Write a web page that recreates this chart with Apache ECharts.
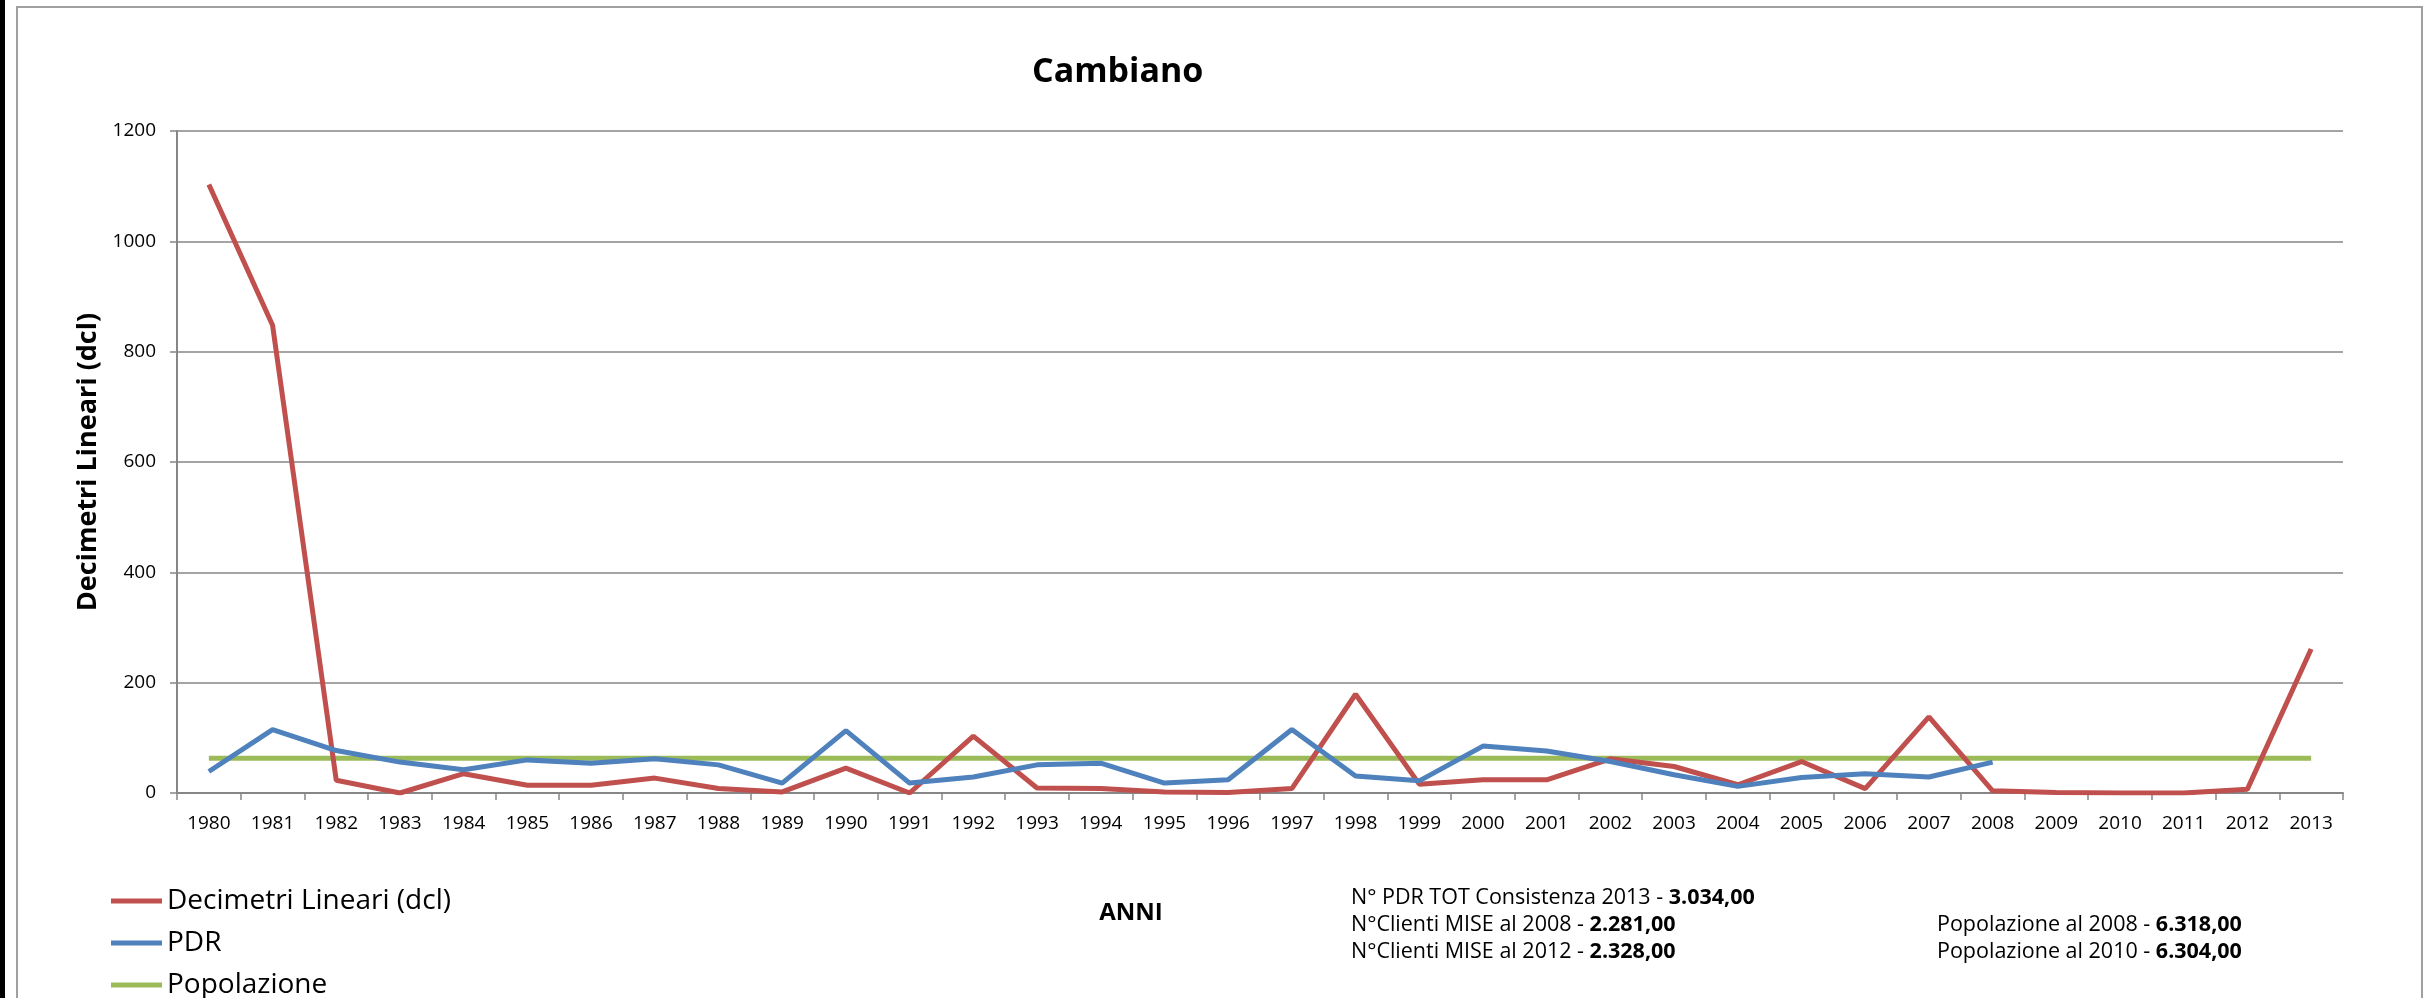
<!DOCTYPE html>
<html>
<head>
<meta charset="utf-8">
<script src="https://cdn.jsdelivr.net/npm/echarts@6/dist/echarts.min.js"></script>
<style>
html,body{margin:0;padding:0;background:#fff;}
#chart{width:2424px;height:998px;}
</style>
</head>
<body>
<div id="chart"></div>
<script>
const years = ['1980','1981','1982','1983','1984','1985','1986','1987','1988','1989','1990','1991','1992','1993','1994','1995','1996','1997','1998','1999','2000','2001','2002','2003','2004','2005','2006','2007','2008','2009','2010','2011','2012','2013'];
const decimetri = [1103,848,23,0,35,14,14,27,8,2,45,0,103,9,8,2,1,8,179,16,24,24,62,48,15,57,8,138,4,1,0,0,7,261];
const pdr = [39,115,77,56,42,60,54,62,51,18,113,18,29,51,54,18,24,115,31,22,85,76,57,33,12,28,35,29,56,null,null,null,null,null];
const popolazione = [63,63,63,63,63,63,63,63,63,63,63,63,63,63,63,63,63,63,63,63,63,63,63,63,63,63,63,63,63,63,63,63,63,63];
const seriesNames = ['Decimetri Lineari (dcl)','PDR','Popolazione'];
const yTicks = [0,200,400,600,800,1000,1200];
const annoLeftLabels = ['N° PDR TOT Consistenza 2013 - ','N°Clienti MISE al 2008 - ','N°Clienti MISE al 2012 - '];
const annoLeftValues = ['3.034,00','2.281,00','2.328,00'];
const annoRightLabels = ['Popolazione al 2008 - ','Popolazione al 2010 - '];
const annoRightValues = ['6.318,00','6.304,00'];

const FONT = '"Open Sans", sans-serif';
const chart = echarts.init(document.getElementById('chart'), null, {renderer:'canvas'});

function anno(label, value, x, y){
  return {type:'text', x:x, y:y, style:{
    text:'{n|'+label+'}{b|'+value+'}', verticalAlign:'middle',
    rich:{n:{fontFamily:FONT,fontSize:21.5,fill:'#000'},b:{fontFamily:FONT,fontSize:21.5,fontWeight:'bold',fill:'#000'}}
  }};
}
const graphics = [
  {type:'rect', shape:{x:0,y:0,width:5,height:998}, style:{fill:'#000'}},
  {type:'rect', shape:{x:17,y:7,width:2405,height:1100}, style:{fill:'none',stroke:'#a0a0a0',lineWidth:2}},
  {type:'text', x:1131, y:913, style:{text:'ANNI', fontFamily:FONT, fontSize:24, fontWeight:'bold', fill:'#000', align:'center', verticalAlign:'middle'}}
];
annoLeftLabels.forEach((l,i)=>graphics.push(anno(l, annoLeftValues[i], 1351, 898 + i*27)));
annoRightLabels.forEach((l,i)=>graphics.push(anno(l, annoRightValues[i], 1937, 925 + i*27)));

const colors = ['#C0504D','#4F81BD','#9BBB59'];
const seriesData = [decimetri, pdr, popolazione];

chart.setOption({
  backgroundColor:'#fff',
  animation:false,
  title:{text:'Cambiano', left:1032, top:55, padding:0, textStyle:{fontFamily:FONT,fontSize:34,fontWeight:'bold',color:'#000'}},
  legend:{orient:'vertical', left:111, top:886, height:200, padding:0, icon:'rect', itemWidth:51, itemHeight:5, itemGap:12,
    data:seriesNames, textStyle:{fontFamily:FONT,fontSize:28,color:'#000',lineHeight:30}},
  grid:{left:177, top:131, right:81, bottom:205, outerBoundsMode:'none'},
  xAxis:{type:'category', data:years, boundaryGap:true,
    axisLine:{lineStyle:{color:'#868686',width:2}},
    axisTick:{show:true, length:7, alignWithLabel:false, lineStyle:{color:'#868686',width:1.5}},
    axisLabel:{fontFamily:FONT,fontSize:19,color:'#000',margin:21, interval:0},
    splitLine:{show:false}},
  yAxis:{type:'value', min:yTicks[0], max:yTicks[yTicks.length-1], interval:200,
    name:'Decimetri Lineari (dcl)', nameLocation:'middle', nameRotate:90, nameGap:69,
    nameTextStyle:{fontFamily:FONT,fontSize:27,fontWeight:'bold',color:'#000'},
    axisLine:{show:true,lineStyle:{color:'#868686',width:2}},
    axisTick:{show:true,length:7,lineStyle:{color:'#868686',width:1.5}},
    axisLabel:{fontFamily:FONT,fontSize:19,color:'#000',margin:21, formatter:(v)=>String(v)},
    splitLine:{show:true,lineStyle:{color:'#868686',width:1.5}}},
  series: seriesNames.map((n,i)=>({name:n, type:'line', data:seriesData[i], showSymbol:false, symbol:'none',
    lineStyle:{color:colors[i], width:5}, itemStyle:{color:colors[i]}, connectNulls:false, z: i===2?1:2})),
  graphic: graphics
});
</script>
</body>
</html>
